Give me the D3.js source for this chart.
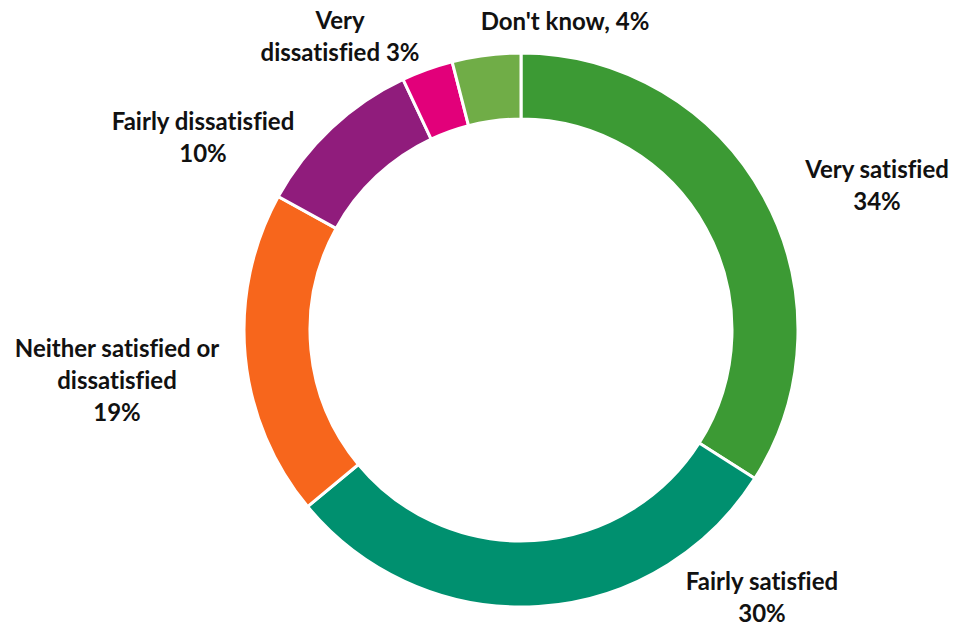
<!DOCTYPE html>
<html>
<head>
<meta charset="utf-8">
<script src="https://cdn.jsdelivr.net/npm/d3@7"></script>
<style>
  html, body { margin: 0; padding: 0; background: #fff; }
  svg text {
    font-family: Lato, "Open Sans", sans-serif; font-weight: 700; font-size: 24px; fill: #111;
    font-variant-ligatures: none; font-feature-settings: "liga" 0;
  }
</style>
</head>
<body>
<svg id="chart" width="955" height="626"></svg>
<script>
// Satisfaction responses, clockwise from 12 o'clock
const categories = ["Very satisfied", "Fairly satisfied", "Neither satisfied or dissatisfied", "Fairly dissatisfied", "Very dissatisfied", "Don't know"];
const values = [34, 30, 19, 10, 3, 4];
const colors = ["#3c9a34", "#00906f", "#f7661c", "#901c7c", "#e2007a", "#70ad47"];
// Label text broken into lines as drawn beside each slice
const labelLines = [
  ["Very satisfied", "34%"],
  ["Fairly satisfied", "30%"],
  ["Neither satisfied or", "dissatisfied", "19%"],
  ["Fairly dissatisfied", "10%"],
  ["Very", "dissatisfied 3%"],
  ["Don't know, 4%"]
];
// Label anchor (baseline of first line) per slice
const labelPos = [
  [877, 178], [762, 590], [117, 357], [203, 130], [340, 29], [565, 30]
];

const svg = d3.select("#chart");
const cx = 521, cy = 330, outerR = 277, innerR = 211;

const data = categories.map((c, i) => ({ name: c, value: values[i], color: colors[i], lines: labelLines[i], pos: labelPos[i] }));

const pie = d3.pie().value(d => d.value).sort(null);
const arc = d3.arc().innerRadius(innerR).outerRadius(outerR);

const g = svg.append("g").attr("transform", `translate(${cx},${cy})`);
g.selectAll("path")
  .data(pie(data))
  .join("path")
  .attr("d", arc)
  .attr("fill", d => d.data.color)
  .attr("stroke", "#fff")
  .attr("stroke-width", 3);

const lineH = 32;
const labels = svg.selectAll("text.lbl")
  .data(data)
  .join("text")
  .attr("class", "lbl")
  .attr("text-anchor", "middle")
  .attr("x", d => d.pos[0])
  .attr("y", d => d.pos[1]);
labels.each(function(d) {
  d3.select(this).selectAll("tspan")
    .data(d.lines)
    .join("tspan")
    .attr("x", d.pos[0])
    .attr("dy", (l, i) => i === 0 ? 0 : lineH)
    .text(l => l);
});
</script>
</body>
</html>
